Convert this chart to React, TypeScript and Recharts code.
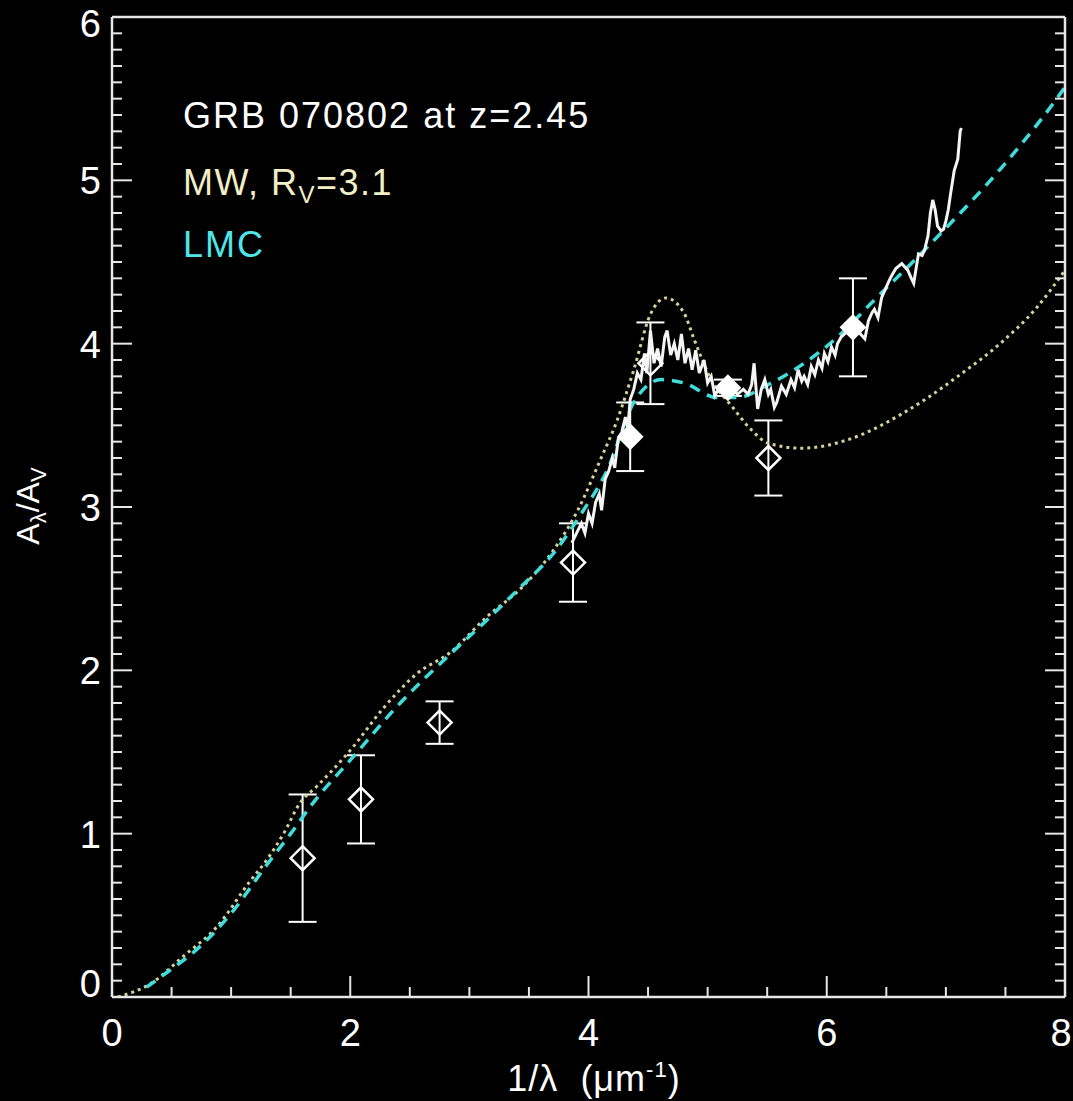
import { ComposedChart, Line, Scatter, ErrorBar, XAxis, YAxis } from 'recharts'

const FONT = '"Liberation Sans", Arial, Helvetica, sans-serif'

// Milky Way extinction law, R_V = 3.1 (dotted)
const mwCurve = [
  { x: 0.05, y: 0.0 }, { x: 0.32, y: 0.08 }, { x: 0.6, y: 0.25 }, { x: 0.88, y: 0.43 },
  { x: 1.16, y: 0.71 }, { x: 1.3, y: 0.84 }, { x: 1.44, y: 1.0 }, { x: 1.58, y: 1.19 },
  { x: 1.72, y: 1.29 }, { x: 2.0, y: 1.51 }, { x: 2.28, y: 1.77 }, { x: 2.56, y: 1.98 },
  { x: 2.84, y: 2.11 }, { x: 3.15, y: 2.33 }, { x: 3.43, y: 2.5 }, { x: 3.71, y: 2.74 },
  { x: 3.91, y: 2.98 }, { x: 4.1, y: 3.29 }, { x: 4.24, y: 3.53 }, { x: 4.38, y: 3.84 },
  { x: 4.52, y: 4.18 }, { x: 4.65, y: 4.28 }, { x: 4.8, y: 4.19 }, { x: 4.89, y: 4.02 },
  { x: 5.03, y: 3.78 }, { x: 5.2, y: 3.62 }, { x: 5.37, y: 3.47 }, { x: 5.51, y: 3.39 },
  { x: 5.79, y: 3.36 }, { x: 6.21, y: 3.42 }, { x: 6.63, y: 3.57 }, { x: 6.85, y: 3.67 },
  { x: 7.1, y: 3.8 }, { x: 7.47, y: 4.01 }, { x: 7.75, y: 4.21 }, { x: 8.0, y: 4.45 },
]

// LMC extinction law (dashed)
const lmcCurve = [
  { x: 0.29, y: 0.06 }, { x: 0.46, y: 0.15 }, { x: 0.74, y: 0.31 }, { x: 1.02, y: 0.53 },
  { x: 1.3, y: 0.81 }, { x: 1.5, y: 1.0 }, { x: 1.69, y: 1.19 }, { x: 2.0, y: 1.45 },
  { x: 2.42, y: 1.8 }, { x: 2.84, y: 2.1 }, { x: 3.15, y: 2.31 }, { x: 3.43, y: 2.51 },
  { x: 3.71, y: 2.72 }, { x: 3.94, y: 2.96 }, { x: 4.16, y: 3.23 }, { x: 4.38, y: 3.64 },
  { x: 4.61, y: 3.78 }, { x: 4.8, y: 3.76 }, { x: 5.08, y: 3.67 }, { x: 5.25, y: 3.67 },
  { x: 5.51, y: 3.75 }, { x: 5.79, y: 3.87 }, { x: 6.12, y: 4.06 }, { x: 6.35, y: 4.23 },
  { x: 6.91, y: 4.64 }, { x: 7.47, y: 5.08 }, { x: 7.89, y: 5.46 }, { x: 8.0, y: 5.57 },
]

// GRB 070802 afterglow spectrum (white)
const grbSpectrum = [
  { x: 3.86, y: 2.78 }, { x: 3.9, y: 2.84 }, { x: 3.94, y: 2.9 }, { x: 3.97, y: 2.84 },
  { x: 4.0, y: 2.96 }, { x: 4.03, y: 2.9 }, { x: 4.06, y: 3.03 }, { x: 4.09, y: 3.08 },
  { x: 4.11, y: 2.98 }, { x: 4.14, y: 3.17 }, { x: 4.17, y: 3.22 }, { x: 4.2, y: 3.3 },
  { x: 4.22, y: 3.24 }, { x: 4.25, y: 3.42 }, { x: 4.28, y: 3.46 }, { x: 4.31, y: 3.55 },
  { x: 4.33, y: 3.48 }, { x: 4.35, y: 3.66 }, { x: 4.38, y: 3.72 }, { x: 4.41, y: 3.82 },
  { x: 4.44, y: 3.78 }, { x: 4.47, y: 3.94 }, { x: 4.49, y: 3.82 }, { x: 4.52, y: 4.08 },
  { x: 4.55, y: 3.88 }, { x: 4.58, y: 3.97 }, { x: 4.61, y: 3.86 }, { x: 4.64, y: 4.04 },
  { x: 4.66, y: 4.08 }, { x: 4.69, y: 3.93 }, { x: 4.72, y: 4.0 }, { x: 4.75, y: 3.9 },
  { x: 4.78, y: 4.06 }, { x: 4.81, y: 3.88 }, { x: 4.84, y: 3.97 }, { x: 4.87, y: 3.84 },
  { x: 4.9, y: 3.96 }, { x: 4.93, y: 3.82 }, { x: 4.97, y: 3.9 }, { x: 5.0, y: 3.76 },
  { x: 5.03, y: 3.8 }, { x: 5.06, y: 3.68 }, { x: 5.09, y: 3.72 }, { x: 5.13, y: 3.76 },
  { x: 5.17, y: 3.74 }, { x: 5.21, y: 3.72 }, { x: 5.25, y: 3.69 }, { x: 5.3, y: 3.72 },
  { x: 5.34, y: 3.69 }, { x: 5.37, y: 3.75 }, { x: 5.39, y: 3.88 }, { x: 5.42, y: 3.6 },
  { x: 5.45, y: 3.72 }, { x: 5.48, y: 3.78 }, { x: 5.51, y: 3.69 }, { x: 5.53, y: 3.72 },
  { x: 5.56, y: 3.61 }, { x: 5.58, y: 3.64 }, { x: 5.62, y: 3.74 }, { x: 5.66, y: 3.69 },
  { x: 5.7, y: 3.78 }, { x: 5.73, y: 3.73 }, { x: 5.76, y: 3.84 }, { x: 5.79, y: 3.77 },
  { x: 5.81, y: 3.8 }, { x: 5.84, y: 3.75 }, { x: 5.87, y: 3.86 }, { x: 5.9, y: 3.81 },
  { x: 5.93, y: 3.9 }, { x: 5.96, y: 3.85 }, { x: 5.98, y: 3.94 }, { x: 6.01, y: 3.89 },
  { x: 6.04, y: 3.98 }, { x: 6.07, y: 3.93 }, { x: 6.09, y: 4.0 }, { x: 6.12, y: 4.04 },
  { x: 6.15, y: 4.06 }, { x: 6.19, y: 4.08 }, { x: 6.23, y: 4.12 }, { x: 6.27, y: 4.07 },
  { x: 6.32, y: 4.03 }, { x: 6.35, y: 4.14 }, { x: 6.38, y: 4.19 }, { x: 6.4, y: 4.21 },
  { x: 6.43, y: 4.16 }, { x: 6.46, y: 4.28 }, { x: 6.49, y: 4.33 }, { x: 6.52, y: 4.38 },
  { x: 6.54, y: 4.41 }, { x: 6.58, y: 4.46 }, { x: 6.63, y: 4.49 }, { x: 6.68, y: 4.45 },
  { x: 6.71, y: 4.4 }, { x: 6.73, y: 4.37 }, { x: 6.75, y: 4.46 }, { x: 6.77, y: 4.55 },
  { x: 6.8, y: 4.54 }, { x: 6.82, y: 4.57 }, { x: 6.85, y: 4.66 }, { x: 6.87, y: 4.8 },
  { x: 6.89, y: 4.88 }, { x: 6.91, y: 4.82 }, { x: 6.93, y: 4.72 }, { x: 6.96, y: 4.69 },
  { x: 6.98, y: 4.7 }, { x: 7.0, y: 4.75 }, { x: 7.02, y: 4.82 }, { x: 7.04, y: 4.92 },
  { x: 7.07, y: 5.06 }, { x: 7.1, y: 5.13 }, { x: 7.12, y: 5.3 }, { x: 7.13, y: 5.32 },
]

// photometric points (open diamonds)
const photometry = [
  { x: 1.6, y: 0.85, err: 0.39 },
  { x: 2.09, y: 1.21, err: 0.27 },
  { x: 2.75, y: 1.68, err: 0.13 },
  { x: 3.87, y: 2.66, err: 0.24 },
  { x: 4.52, y: 3.88, err: 0.25 },
  { x: 5.51, y: 3.3, err: 0.23 },
]

// spectroscopic points (filled diamonds)
const spectroPoints = [
  { x: 4.35, y: 3.43, err: 0.21 },
  { x: 5.17, y: 3.73, err: 0.05 },
  { x: 6.22, y: 4.1, err: 0.3 },
]

const xTicks = [0, 0.5, 1, 1.5, 2, 2.5, 3, 3.5, 4, 4.5, 5, 5.5, 6, 6.5, 7, 7.5, 8]
const yTicks = Array.from({ length: 61 }, (_, i) => i / 10)

const AXIS = '#e6e6e6'
const isMajorX = (v: number) => Math.abs(v / 2 - Math.round(v / 2)) < 1e-6
const isMajorY = (v: number) => Math.abs(v - Math.round(v)) < 1e-6

function BottomTick({ x, y, payload }: any) {
  const v = payload.value
  const major = isMajorX(v)
  // last label sits on the right border; nudge it so it stays on the page
  const dx = v === 8 ? -4 : 0
  return (
    <g>
      <line x1={x} x2={x} y1={y} y2={y - (major ? 21 : 10)} stroke={AXIS} strokeWidth={2} />
      {major && (
        <text x={x + dx} y={y + 49} textAnchor="middle" fill="#fff" fontSize={38} fontFamily={FONT}>
          {v}
        </text>
      )}
    </g>
  )
}

function TopTick({ x, y, payload }: any) {
  const major = isMajorX(payload.value)
  return <line x1={x} x2={x} y1={y} y2={y + (major ? 21 : 10)} stroke={AXIS} strokeWidth={2} />
}

function LeftTick({ x, y, payload }: any) {
  const v = payload.value
  const major = isMajorY(v)
  const shift = v === 0 ? -14 : v === 6 ? 6 : 0
  return (
    <g>
      <line x1={x} x2={x + (major ? 20 : 10)} y1={y} y2={y} stroke={AXIS} strokeWidth={2} />
      {major && (
        <text x={x - 11} y={y + 14 + shift} textAnchor="end" fill="#fff" fontSize={38} fontFamily={FONT}>
          {Math.round(v)}
        </text>
      )}
    </g>
  )
}

function RightTick({ x, y, payload }: any) {
  const major = isMajorY(payload.value)
  return <line x1={x} x2={x - (major ? 20 : 10)} y1={y} y2={y} stroke={AXIS} strokeWidth={2} />
}

function OpenDiamond({ cx, cy }: any) {
  const r = 12
  return (
    <path
      d={`M${cx},${cy - r} L${cx + r},${cy} L${cx},${cy + r} L${cx - r},${cy} Z`}
      fill="none"
      stroke="#fff"
      strokeWidth={2.5}
    />
  )
}

function FilledDiamond({ cx, cy }: any) {
  const r = 12
  return (
    <path
      d={`M${cx},${cy - r} L${cx + r},${cy} L${cx},${cy + r} L${cx - r},${cy} Z`}
      fill="#fff"
      stroke="#fff"
      strokeWidth={2}
    />
  )
}

export default function App() {
  return (
    <div style={{ position: 'absolute', left: 0, top: 0, width: 1073, height: 1101, background: '#000', overflow: 'hidden' }}>
      <ComposedChart width={1073} height={1101} margin={{ top: 16, right: 7, bottom: 44, left: 12 }}>
        <XAxis
          dataKey="x"
          type="number"
          domain={[0, 8]}
          ticks={xTicks}
          interval={0}
          allowDataOverflow
          height={60}
          tickSize={0}
          tickMargin={0}
          tickLine={false}
          axisLine={{ stroke: AXIS, strokeWidth: 2.5 }}
          tick={<BottomTick />}
        />
        <XAxis
          xAxisId="top"
          orientation="top"
          type="number"
          domain={[0, 8]}
          ticks={xTicks}
          interval={0}
          allowDataOverflow
          height={1}
          tickSize={0}
          tickMargin={0}
          tickLine={false}
          axisLine={{ stroke: AXIS, strokeWidth: 2.5 }}
          tick={<TopTick />}
        />
        <YAxis
          type="number"
          domain={[0, 6]}
          ticks={yTicks}
          interval={0}
          allowDataOverflow
          width={100}
          tickSize={0}
          tickMargin={0}
          tickLine={false}
          axisLine={{ stroke: AXIS, strokeWidth: 2.5 }}
          tick={<LeftTick />}
        />
        <YAxis
          yAxisId="right"
          orientation="right"
          type="number"
          domain={[0, 6]}
          ticks={yTicks}
          interval={0}
          allowDataOverflow
          width={1}
          tickSize={0}
          tickMargin={0}
          tickLine={false}
          axisLine={{ stroke: AXIS, strokeWidth: 2.5 }}
          tick={<RightTick />}
        />
        <Scatter data={photometry} dataKey="y" shape={<OpenDiamond />} isAnimationActive={false}>
          <ErrorBar dataKey="err" direction="y" width={14} stroke="#fff" strokeWidth={2} />
        </Scatter>
        <Scatter data={spectroPoints} dataKey="y" shape={<FilledDiamond />} isAnimationActive={false}>
          <ErrorBar dataKey="err" direction="y" width={14} stroke="#fff" strokeWidth={2} />
        </Scatter>
        <Line
          data={mwCurve}
          dataKey="y"
          type="monotone"
          stroke="#d6d19a"
          strokeWidth={3}
          strokeDasharray="3 4"
          dot={false}
          activeDot={false}
          isAnimationActive={false}
        />
        <Line
          data={lmcCurve}
          dataKey="y"
          type="monotone"
          stroke="#3fdcdc"
          strokeWidth={3.5}
          strokeDasharray="11 8"
          dot={false}
          activeDot={false}
          isAnimationActive={false}
        />
        <Line
          data={grbSpectrum}
          dataKey="y"
          type="linear"
          stroke="#f4f4f4"
          strokeWidth={3}
          dot={false}
          activeDot={false}
          isAnimationActive={false}
        />
      </ComposedChart>

      <svg width={1073} height={1101} style={{ position: 'absolute', left: 0, top: 0, pointerEvents: 'none' }}>
        <g fontFamily={FONT}>
          <text x={183} y={128} fill="#fff" fontSize={36} letterSpacing={2}>
            GRB 070802 at z=2.45
          </text>
          <text x={183} y={195} fill="#f2eec6" fontSize={36} letterSpacing={1.5}>
            MW, R<tspan fontSize={24} dy={8}>V</tspan>
            <tspan dy={-8}>=3.1</tspan>
          </text>
          <text x={183} y={257} fill="#4fe5ea" fontSize={36} letterSpacing={2}>
            LMC
          </text>
          <text x={594} y={1091} textAnchor="middle" fill="#fff" fontSize={36} letterSpacing={1}>
            1/λ{'\u00a0\u00a0'}(μm<tspan dy={-14} fontSize={22}>-1</tspan>
            <tspan dy={14}>)</tspan>
          </text>
          <text transform="translate(39,506) rotate(-90)" textAnchor="middle" fill="#fff" fontSize={32}>
            A<tspan dy={7} fontSize={22}>λ</tspan>
            <tspan dy={-7}>/A</tspan>
            <tspan dy={7} fontSize={22}>V</tspan>
          </text>
        </g>
      </svg>
    </div>
  )
}
